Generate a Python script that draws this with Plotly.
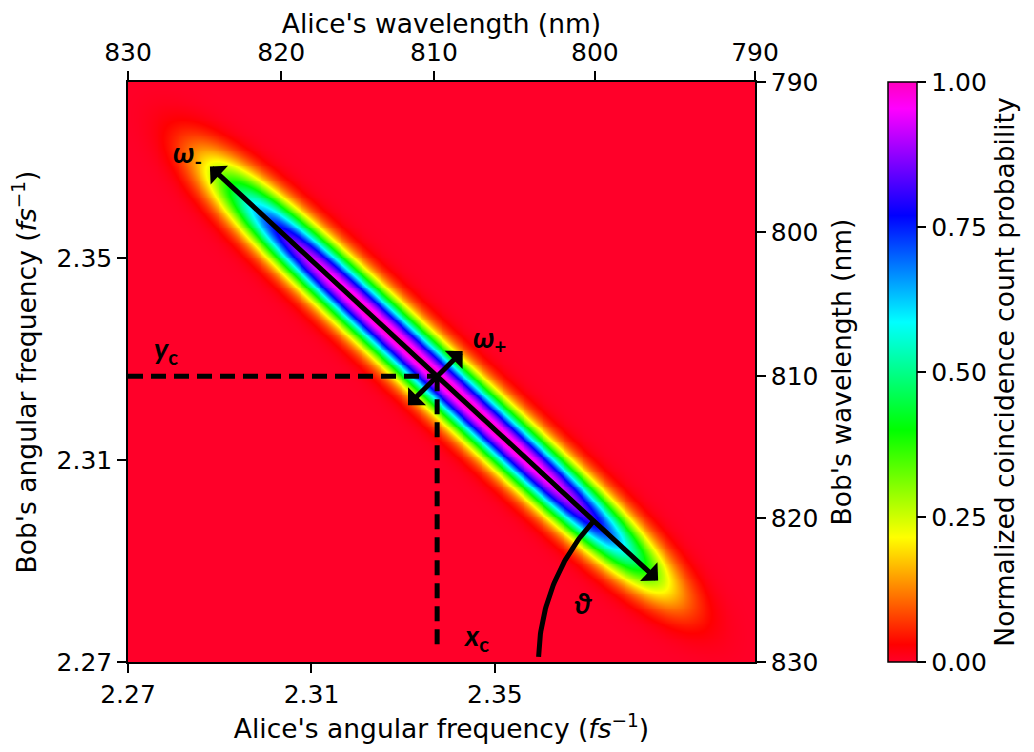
import numpy as np
import plotly.graph_objects as go

# ---------------- data / axis values ----------------
alice_range = [2.27, 2.4067]          # Alice's angular frequency (fs^-1)
bob_range = [2.27, 2.3849]            # Bob's angular frequency (fs^-1)
freq_ticks = [2.27, 2.31, 2.35]
freq_tick_text = ["2.27", "2.31", "2.35"]

alice_wl_labels = ["830", "820", "810", "800", "790"]
alice_wl_pos = [2.27, 2.3034, 2.3367, 2.3718, 2.4067]
bob_wl_labels = ["830", "820", "810", "800", "790"]
bob_wl_pos = [2.27, 2.2985, 2.3266, 2.3551, 2.3849]

cbar_ticks = [0, 0.25, 0.5, 0.75, 1.0]
cbar_text = ["0.00", "0.25", "0.50", "0.75", "1.00"]

# joint spectral intensity parameters
x_c = 2.3374            # centre, Alice
y_c = 2.3266            # centre, Bob
theta_deg = -40.0       # orientation of the long (omega-) axis
half_len_minus = 0.0600 # half length along omega-
order_minus = 5.0       # flat-topped profile along omega-
sigma_plus = 0.0036     # gaussian width along omega+

# annotation geometry
arrow_minus_len = [0.0651, 0.0629]   # from centre, up-left / down-right
arrow_plus_deg = 42.0
arrow_plus_len = [0.0090, 0.0075]
vline_bottom = 2.272
arc_radius_px = 208
arc_end_deg = 178.6

# ---------------- layout geometry ----------------
# the page body adds an 8 px margin, so the figure is 16 px smaller than the window
W, H = 1018, 736
ml, mt = 120, 74
plot_w, plot_h = 627, 580
mr = W - ml - plot_w
mb = H - mt - plot_h
sx = plot_w / (alice_range[1] - alice_range[0])
sy = plot_h / (bob_range[1] - bob_range[0])

# ---------------- heatmap ----------------
xs = np.linspace(alice_range[0], alice_range[1], 330)
ys = np.linspace(bob_range[0], bob_range[1], 310)
X, Y = np.meshgrid(xs, ys)
th = np.deg2rad(theta_deg)
u = (X - x_c) * np.cos(th) + (Y - y_c) * np.sin(th)
v = -(X - x_c) * np.sin(th) + (Y - y_c) * np.cos(th)
Z = np.exp(-np.abs(u / half_len_minus) ** order_minus) * np.exp(-0.5 * (v / sigma_plus) ** 2)
Z = np.round(Z, 4)

gist_rainbow = [
    [0.000, "rgb(255,0,41)"],
    [0.030, "rgb(255,0,0)"],
    [0.215, "rgb(255,255,0)"],
    [0.400, "rgb(0,255,0)"],
    [0.586, "rgb(0,255,255)"],
    [0.770, "rgb(0,0,255)"],
    [0.954, "rgb(255,0,255)"],
    [1.000, "rgb(255,0,191)"],
]

TICK = 25
TITLE = 26.5
FONT = "DejaVu Sans"
LW = 5

fig = go.Figure()
fig.add_trace(go.Heatmap(
    x=xs, y=ys, z=Z, zmin=0, zmax=1, zsmooth="best",
    colorscale=gist_rainbow, hoverinfo="skip",
    colorbar=dict(
        x=(880 - ml) / plot_w, xanchor="left", y=0.5, yanchor="middle",
        len=1, lenmode="fraction", thickness=29, thicknessmode="pixels",
        outlinewidth=1.5, outlinecolor="black", xpad=0, ypad=0,
        ticks="outside", ticklen=9, tickwidth=1.5, tickcolor="black",
        tickvals=cbar_ticks, ticktext=cbar_text,
        tickfont=dict(size=TICK, family=FONT, color="black"),
        title=dict(text="Normalized coincidence count probability", side="right",
                   font=dict(size=TITLE, family=FONT, color="black")),
    ),
))

# angle arc (theta) around the point where the omega- axis meets the bottom axis
x_arc_c = x_c + (y_c - bob_range[0]) / np.tan(-th)
phi0 = np.degrees(np.arctan2(-np.sin(th) * sy, -np.cos(th) * sx))
phis = np.deg2rad(np.linspace(phi0, arc_end_deg, 60))
arc_x = x_arc_c + arc_radius_px * np.cos(phis) / sx
arc_y = bob_range[0] + arc_radius_px * np.sin(phis) / sy
fig.add_trace(go.Scatter(x=arc_x, y=arc_y, mode="lines", xaxis="x2", yaxis="y2",
                         line=dict(color="black", width=LW), hoverinfo="skip",
                         showlegend=False))

# dashed guide lines
dash = "15px,8px"
fig.add_shape(type="line", x0=alice_range[0], x1=x_c, y0=y_c, y1=y_c,
              line=dict(color="black", width=LW, dash=dash))
fig.add_shape(type="line", x0=x_c, x1=x_c, y0=y_c, y1=vline_bottom,
              line=dict(color="black", width=LW, dash=dash))

# double headed arrows
def dbl_arrow(x0, y0, x1, y1):
    fig.add_annotation(x=x1, y=y1, ax=x0, ay=y0, xref="x", yref="y", axref="x", ayref="y",
                       text="", showarrow=True, arrowside="end+start",
                       arrowhead=1, startarrowhead=1, arrowsize=0.85, startarrowsize=0.85,
                       arrowwidth=LW, arrowcolor="black", standoff=0, startstandoff=0)

c, s = np.cos(th), np.sin(th)
dbl_arrow(x_c - arrow_minus_len[0] * c, y_c - arrow_minus_len[0] * s,
          x_c + arrow_minus_len[1] * c, y_c + arrow_minus_len[1] * s)
tp = np.deg2rad(arrow_plus_deg)
dbl_arrow(x_c - arrow_plus_len[0] * np.cos(tp), y_c - arrow_plus_len[0] * np.sin(tp),
          x_c + arrow_plus_len[1] * np.cos(tp), y_c + arrow_plus_len[1] * np.sin(tp))

# labels
lab_font = dict(family="Lato", size=29, color="black")
labels = [
    ("<b><i>ω</i><sub>-</sub></b>", 2.2829, 2.3708),
    ("<b><i>ω</i><sub>+</sub></b>", 2.3489, 2.3340),
    ("<b><i>y</i><sub>c</sub></b>", 2.2783, 2.3320),
    ("<b><i>x</i><sub>c</sub></b>", 2.3459, 2.2751),
    ("<b><i>ϑ</i></b>", 2.3694, 2.2817),
]
for t, lx, ly in labels:
    fig.add_annotation(x=lx, y=ly, xref="x", yref="y", text=t, showarrow=False,
                       font=lab_font, xanchor="center", yanchor="middle")

axis_common = dict(showgrid=False, zeroline=False, showline=True, linecolor="black",
                   linewidth=1.5, ticks="outside", ticklen=9, tickwidth=1.5,
                   tickcolor="black", automargin=False,
                   tickfont=dict(size=TICK, family=FONT, color="black"))

fig.update_layout(
    width=W, height=H,
    margin=dict(l=ml, r=mr, t=mt, b=mb, autoexpand=False),
    paper_bgcolor="white", plot_bgcolor="white",
    font=dict(family=FONT, color="black"),
    showlegend=False,
    xaxis=dict(range=alice_range, tickvals=freq_ticks, ticktext=freq_tick_text,
               title=dict(text="Alice's angular frequency (<i>fs</i><sup>−1</sup>)",
                          font=dict(size=TITLE, family=FONT)),
               **axis_common),
    yaxis=dict(range=bob_range, tickvals=freq_ticks, ticktext=freq_tick_text,
               title=dict(text="Bob's angular frequency (<i>fs</i><sup>−1</sup>)",
                          font=dict(size=TITLE, family=FONT)),
               **axis_common),
    xaxis2=dict(range=alice_range, overlaying="x", side="top", anchor="y",
                tickvals=alice_wl_pos, ticktext=alice_wl_labels,
                title=dict(text="Alice's wavelength (nm)",
                           font=dict(size=TITLE, family=FONT)),
                **axis_common),
    yaxis2=dict(range=bob_range, overlaying="y", side="right", anchor="x",
                tickvals=bob_wl_pos, ticktext=bob_wl_labels,
                title=dict(text="Bob's wavelength (nm)",
                           font=dict(size=TITLE, family=FONT)),
                **axis_common),
)

fig.write_html("out.html")
